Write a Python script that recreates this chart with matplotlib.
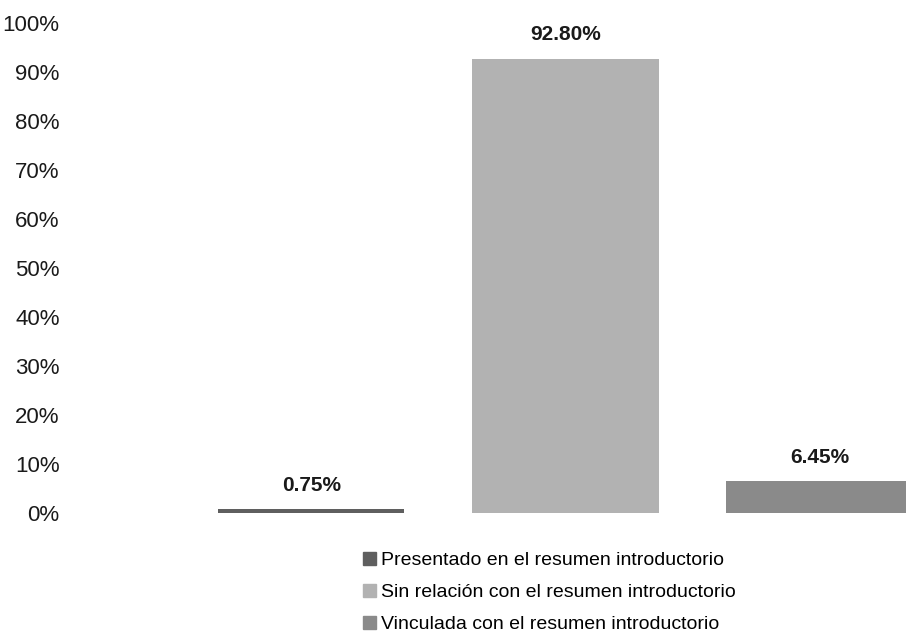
import matplotlib.pyplot as plt
from matplotlib.patches import Patch
from matplotlib import font_manager

categories = ['Presentado en el resumen introductorio',
              'Sin relación con el resumen introductorio',
              'Vinculada con el resumen introductorio']
values = [0.75, 92.80, 6.45]
colors = ['#5f5f5f', '#b2b2b2', '#8a8a8a']
y_ticks = [0, 10, 20, 30, 40, 50, 60, 70, 80, 90, 100]

names = {f.name for f in font_manager.fontManager.ttflist}
fam = ['Liberation Sans Narrow', 'Liberation Sans', 'DejaVu Sans']
plt.rcParams['font.family'] = [f for f in fam if f in names] or ['DejaVu Sans']

fig = plt.figure(figsize=(9.06, 6.35), dpi=100)
ax = fig.add_axes([68 / 906, 122 / 635, 1 - 68 / 906, 489.7 / 635])

x = list(range(len(values)))
ax.bar(x, values, width=0.734, color=colors)
for xi, v in zip(x, values):
    ax.annotate('{:.2f}%'.format(v), (xi, v), xytext=(0, 17), textcoords='offset points',
                ha='center', va='center', fontsize=15, fontweight='bold', color='#1a1a1a')

ax.set_xlim(-0.957, 2.341)
ax.set_ylim(0, 100)
ax.set_yticks(y_ticks)
ax.set_yticklabels(['{}%'.format(t) for t in y_ticks], fontsize=16, color='#1a1a1a')
ax.set_xticks([])
ax.tick_params(axis='y', length=0, pad=6)
for s in ax.spines.values():
    s.set_visible(False)

handles = [Patch(color=c) for c in colors]
fig.legend(handles, categories, loc='upper left', bbox_to_anchor=(363 / 906, 83 / 635),
           frameon=False, fontsize=14, handlelength=0.67, handleheight=0.67,
           handletextpad=0.25, labelspacing=0.74, borderpad=0, borderaxespad=0)

fig.savefig('out.png', dpi=100)
